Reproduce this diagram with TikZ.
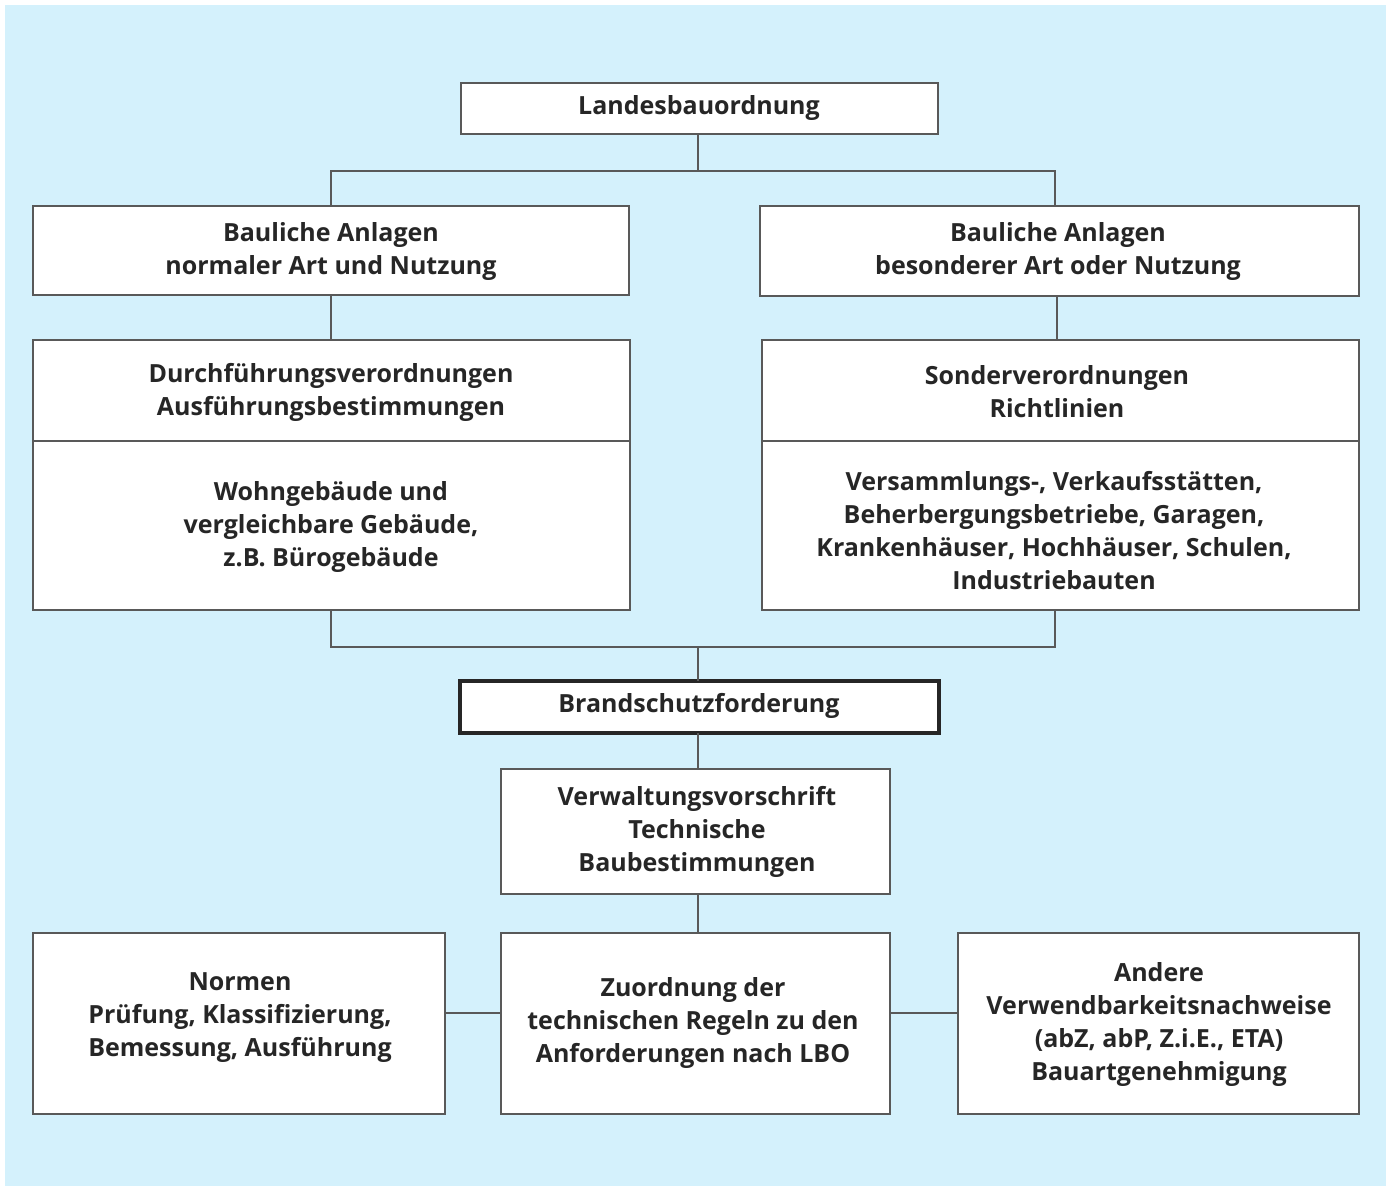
\documentclass[tikz,border=0pt]{standalone}
\usepackage{fontspec}
\setmainfont{Open Sans}
\begin{document}
\begin{tikzpicture}[x=0.5pt,y=-0.5pt,
 bx/.style={draw=black!65,line width=0.6pt,fill=white},
 ln/.style={draw=black!65,line width=0.6pt},
 tx/.style={align=center,font=\fontsize{12.5}{16.5}\selectfont\bfseries\color{black!85}}]
\useasboundingbox (0,0) rectangle (1391,1191);
\fill[white] (0,0) rectangle (1391,1191);
\fill[cyan!17!white] (5,5) rectangle (1386,1186);
% boxes
\draw[bx] (461,83) rectangle (938,134);
\draw[bx] (33,206) rectangle (629,295);
\draw[bx] (760,206) rectangle (1359,296);
\draw[bx] (33,340) rectangle (630,610); \draw[ln] (33,441)--(630,441);
\draw[bx] (762,340) rectangle (1359,610); \draw[ln] (762,441)--(1359,441);
\draw[fill=white,draw=black!85,line width=1.6pt] (460,681) rectangle (939,733);
\draw[bx] (501,769) rectangle (890,894);
\draw[bx] (33,933) rectangle (445,1114);
\draw[bx] (501,933) rectangle (890,1114);
\draw[bx] (958,933) rectangle (1359,1114);
% texts
\node[tx] (landes) at (699,108) {Landesbauordnung};
\node[tx] (ban) at (331,251) {Bauliche Anlagen\\normaler Art und Nutzung};
\node[tx] (bab) at (1058,251) {Bauliche Anlagen\\besonderer Art oder Nutzung};
\node[tx] (durch) at (331,392) {Durchführungsverordnungen\\Ausführungsbestimmungen};
\node[tx] (wohn) at (331,527) {Wohngebäude und\\vergleichbare Gebäude,\\z.B. Bürogebäude};
\node[tx] (sonder) at (1057,392) {Sonderverordnungen\\Richtlinien};
\node[tx] (vers) at (1054,531) {Versammlungs-, Verkaufsstätten,\\Beherbergungsbetriebe, Garagen,\\Krankenhäuser, Hochhäuser, Schulen,\\Industriebauten};
\node[tx] (brand) at (699,706) {Brandschutzforderung};
\node[tx] (verw) at (697,832) {Verwaltungsvorschrift\\Technische\\Baubestimmungen};
\node[tx] (normen) at (240,1018) {Normen\\Prüfung, Klassifizierung,\\Bemessung, Ausführung};
\node[tx] (zuord) at (693,1023) {Zuordnung der\\technischen Regeln zu den\\Anforderungen nach LBO};
\node[tx] (andere) at (1159,1024) {Andere\\Verwendbarkeitsnachweise\\(abZ, abP, Z.i.E., ETA)\\Bauartgenehmigung};
% connectors
\coordinate (t1) at (698,171); \coordinate (t2) at (698,647);
\draw[ln] (698,134)--(t1) (331,206)|-(t1) (1055,206)|-(t1);
\draw[ln] (331,295)--(331,340) (1057,296)--(1057,340);
\draw[ln] (331,610)|-(t2) (1055,610)|-(t2) (t2)--(698,681);
\draw[ln] (698,733)--(698,769) (698,894)--(698,933);
\draw[ln] (445,1013)--(501,1013) (890,1013)--(958,1013);
\end{tikzpicture}
\end{document}
